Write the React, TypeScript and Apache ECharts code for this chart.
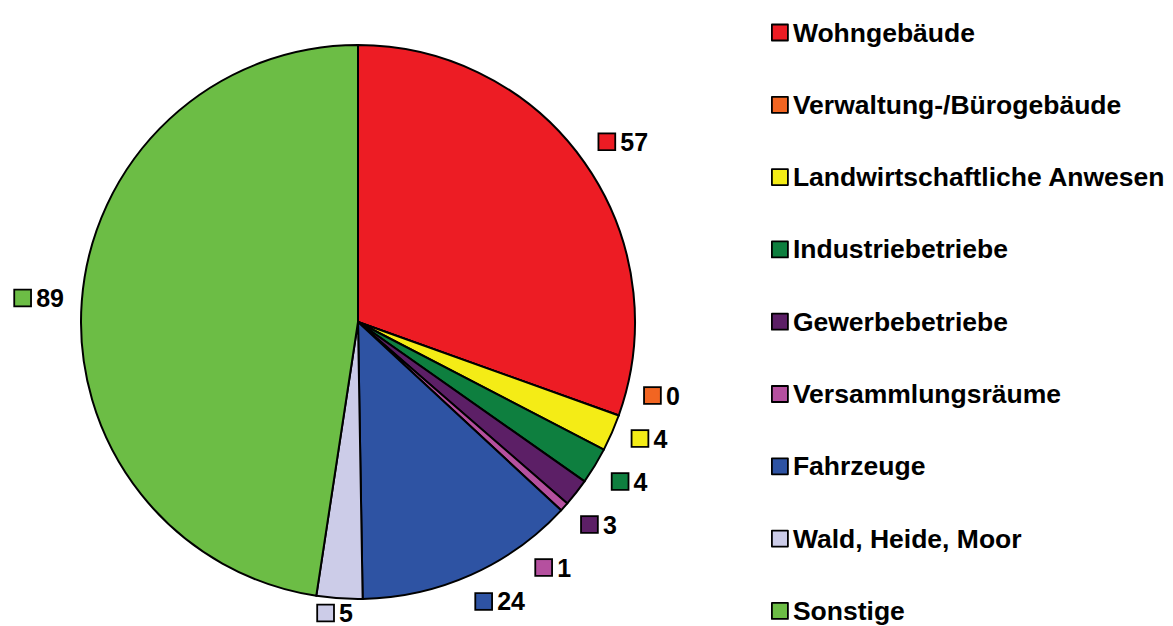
import React, { useEffect, useRef } from "react";
import * as echarts from "echarts";

const categories = [
  "Wohngebäude",
  "Verwaltung-/Bürogebäude",
  "Landwirtschaftliche Anwesen",
  "Industriebetriebe",
  "Gewerbebetriebe",
  "Versammlungsräume",
  "Fahrzeuge",
  "Wald, Heide, Moor",
  "Sonstige",
];
const values = [57, 0, 4, 4, 3, 1, 24, 5, 89];
const palette = [
  "#ED1C24",
  "#F26522",
  "#F4EC16",
  "#0E7F3F",
  "#5C1F66",
  "#B5509F",
  "#2E53A3",
  "#CCCCE8",
  "#6CBD45",
];

const FONT = "'Liberation Sans', Arial, Helvetica, sans-serif";

// pie geometry (config)
const CX = 358;
const CY = 322;
const RADIUS = 277;
const VIEW_H = 626;
// label placement parameters (Excel-like "outside end")
const LABEL_DIST = 294;
const K = 2.2;
const MIN_SPACING = 43;
const LABEL_H = 22;
const BOTTOM_LIMIT = VIEW_H - 13;

const clamp = (v: number) => Math.max(-1, Math.min(1, v));

function centerAt(phi: number, w: number, h: number) {
  const dx = Math.sin(phi);
  const dy = -Math.cos(phi);
  return [
    CX + LABEL_DIST * dx + (clamp(K * dx) * w) / 2,
    CY + LABEL_DIST * dy + (clamp(K * dy) * h) / 2,
  ];
}

function pav(z: number[]): number[] {
  const blocks: { sum: number; n: number }[] = [];
  for (const v of z) {
    blocks.push({ sum: v, n: 1 });
    while (blocks.length > 1) {
      const a = blocks[blocks.length - 2];
      const b = blocks[blocks.length - 1];
      if (a.sum / a.n > b.sum / b.n) {
        blocks.pop();
        a.sum += b.sum;
        a.n += b.n;
      } else break;
    }
  }
  const out: number[] = [];
  for (const b of blocks) for (let i = 0; i < b.n; i++) out.push(b.sum / b.n);
  return out;
}

function computeLabelAngles(): number[] {
  const total = values.reduce((a, b) => a + b, 0);
  let acc = 0;
  const phis = values.map((v) => {
    const mid = ((acc + v / 2) / total) * Math.PI * 2;
    acc += v;
    return mid;
  });
  const widths = values.map((v) => 23 + 13.9 * String(v).length);
  const result = phis.slice();
  [0, 1].forEach((side) => {
    const idx = phis
      .map((p, i) => i)
      .filter((i) => (side === 0 ? Math.sin(phis[i]) >= 0 : Math.sin(phis[i]) < 0));
    const pos = idx.map((i) => ({ i, c: centerAt(phis[i], widths[i], LABEL_H) }));
    pos.sort((a, b) => a.c[1] - b.c[1]);
    const runs: typeof pos[] = [];
    pos.forEach((p, k) => {
      if (k === 0) {
        runs.push([p]);
        return;
      }
      const q = pos[k - 1];
      const overlap = Math.abs(p.c[0] - q.c[0]) < (widths[q.i] + widths[p.i]) / 2;
      if (overlap) runs[runs.length - 1].push(p);
      else runs.push([p]);
    });
    runs.forEach((run) => {
      const z = run.map((p, k) => p.c[1] - k * MIN_SPACING);
      const zz = pav(z);
      run.forEach((p, k) => {
        const ny = zz[k] + k * MIN_SPACING;
        if (Math.abs(ny - p.c[1]) < 0.5) return;
        let lo = side === 0 ? 0 : Math.PI;
        let hi = side === 0 ? Math.PI : Math.PI * 2;
        for (let it = 0; it < 60; it++) {
          const mid = (lo + hi) / 2;
          const y = centerAt(mid, widths[p.i], LABEL_H)[1];
          const increasing = side === 0;
          if ((y < ny) === increasing) lo = mid;
          else hi = mid;
        }
        result[p.i] = (lo + hi) / 2;
      });
    });
  });
  return result;
}

export default function App() {
  const ref = useRef<HTMLDivElement>(null);
  useEffect(() => {
    if (!ref.current) return;
    const chart = echarts.init(ref.current, null, { renderer: "svg" });
    const labelAngles = computeLabelAngles();
    const rich: Record<string, any> = {
      v: {
        fontSize: 25,
        fontWeight: "bold",
        fontFamily: FONT,
        color: "#000",
        padding: [0, 0, 0, 6],
        lineHeight: 26,
      },
    };
    palette.forEach((c, i) => {
      rich["s" + i] = {
        width: 15,
        height: 15,
        backgroundColor: c,
        borderColor: "#000",
        borderWidth: 1.8,
      };
    });
    chart.setOption({
      animation: false,
      backgroundColor: "#fff",
      legend: {
        orient: "vertical",
        left: 771,
        top: 19,
        height: 640,
        padding: 0,
        itemWidth: 16,
        itemHeight: 16,
        itemGap: 45.3,
        icon: "rect",
        itemStyle: { borderColor: "#000", borderWidth: 1.8 },
        textStyle: {
          fontSize: 26.5,
          fontWeight: "bold",
          fontFamily: FONT,
          color: "#000",
          lineHeight: 24,
        },
        data: categories,
      },
      series: [
        {
          type: "pie",
          center: [CX, CY],
          radius: RADIUS,
          startAngle: 90,
          clockwise: true,
          avoidLabelOverlap: false,
          itemStyle: { borderColor: "#000", borderWidth: 2 },
          label: {
            show: true,
            position: "outside",
            formatter: (p: any) => `{s${p.dataIndex}|}{v|${p.value}}`,
            rich,
          },
          labelLine: { show: false, length: 20, length2: 0 },
          labelLayout: (params: any) => {
            const i = params.dataIndex;
            const w = params.labelRect ? params.labelRect.width : 50;
            const c = centerAt(labelAngles[i], w, LABEL_H);
            return {
              x: c[0],
              y: Math.min(c[1], BOTTOM_LIMIT),
              align: "center",
              verticalAlign: "middle",
            };
          },
          emphasis: { disabled: true },
          data: categories.map((name, i) => ({
            name,
            value: values[i],
            itemStyle: { color: palette[i] },
          })),
        },
      ],
    });
    return () => chart.dispose();
  }, []);
  return (
    <div
      ref={ref}
      style={{ position: "fixed", left: 0, top: 0, width: 1173, height: 626 }}
    />
  );
}
